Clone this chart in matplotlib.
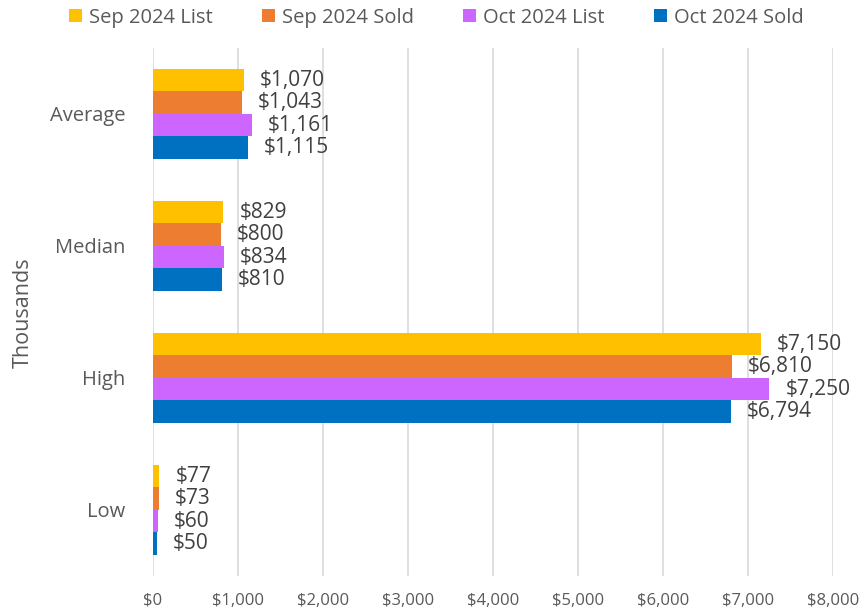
import matplotlib.pyplot as plt
import numpy as np

plt.rcParams['font.family'] = ['Open Sans', 'DejaVu Sans']

categories = ['Average', 'Median', 'High', 'Low']
series_names = ['Sep 2024 List', 'Sep 2024 Sold', 'Oct 2024 List', 'Oct 2024 Sold']
sep_list = [1070, 829, 7150, 77]
sep_sold = [1043, 800, 6810, 73]
oct_list = [1161, 834, 7250, 60]
oct_sold = [1115, 810, 6794, 50]
x_ticks = [0, 1000, 2000, 3000, 4000, 5000, 6000, 7000, 8000]

colors = ['#FFC000', '#ED7D31', '#CC66FF', '#0070C0']
all_series = [sep_list, sep_sold, oct_list, oct_sold]

fig = plt.figure(figsize=(8.59, 6.14), dpi=100)
ax = fig.add_axes([0.178, 0.062, 0.792, 0.860])

bar_h = 0.17
y_base = np.arange(len(categories))
for i, (vals, col, name) in enumerate(zip(all_series, colors, series_names)):
    y = y_base - 1.5 * bar_h + i * bar_h
    ax.barh(y, vals, height=bar_h, color=col, label=name, zorder=2)
    for j, v in enumerate(vals):
        ax.annotate(f'${v:,}', (v, y[j]), xytext=(11.5, 0), textcoords='offset points',
                    ha='left', va='center', fontsize=15, color='#404040')

ax.set_ylim(len(categories) - 0.5, -0.5)
ax.set_yticks(y_base)
ax.set_yticklabels(categories, fontsize=14.5, color='#595959')
ax.set_xlim(0, 8000)
ax.set_xticks(x_ticks)
ax.set_xticklabels([f'${t:,}' for t in x_ticks], fontsize=12, color='#595959')
ax.tick_params(axis='both', length=0)
ax.tick_params(axis='x', pad=12)
ax.tick_params(axis='y', pad=20)
ax.grid(axis='x', color='#D9D9D9', linewidth=1.2, zorder=0)
for s in ax.spines.values():
    s.set_visible(False)

fig.text(0.027, 0.49, 'Thousands', rotation=90, ha='center', va='center',
         fontsize=15.5, color='#595959')

fig.legend(loc='upper center', bbox_to_anchor=(0.508, 1.017), ncol=4, frameon=False,
           fontsize=14.5, handlelength=0.65, handleheight=0.65, handletextpad=0.35,
           columnspacing=2.45, labelcolor='#595959')

fig.savefig('out.png', dpi=100)
